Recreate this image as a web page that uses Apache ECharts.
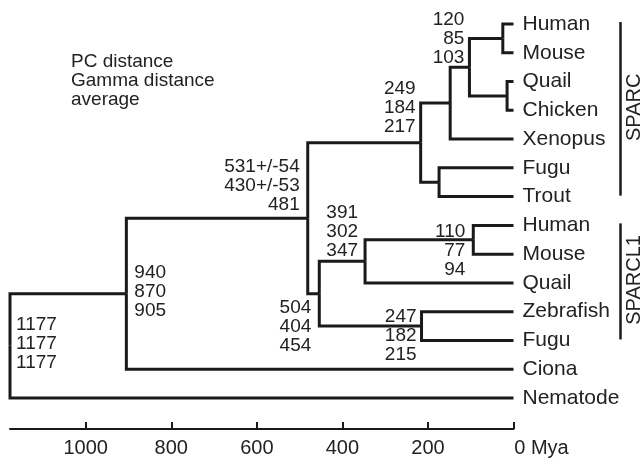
<!DOCTYPE html>
<html><head><meta charset="utf-8">
<script src="https://cdn.jsdelivr.net/npm/echarts@6/dist/echarts.min.js"></script>
<style>html,body{margin:0;padding:0;background:#fff}#c{width:644px;height:458px}</style>
</head><body><div id="c"></div>
<script>
// ---- data ----
const leafNames = ['Human','Mouse','Quail','Chicken','Xenopus','Fugu','Trout','Human','Mouse','Quail','Zebrafish','Fugu','Ciona','Nematode'];
const nodeIds = ['A','B','C','D','E','F','G','H','I','J','K','L','M'];
const nodeKids = [[0,1],[2,3],['A','B'],['C',4],[5,6],['D','E'],[7,8],['G',9],[10,11],['H','I'],['F','J'],['K',12],['L',13]];
const nodeAges = [25,15,103,148,174,217,94,347,215,454,481,905,1177]; // Mya
const pcLabels    = [null,null,'120',null,null,'249','110','391','247','504','531+/-54','940','1177'];
const gammaLabels = [null,null,'85', null,null,'184','77', '302','182','404','430+/-53','870','1177'];
const avgLabels   = [null,null,'103',null,null,'217','94', '347','215','454','481',     '905','1177'];
const groupNames = ['SPARC','SPARCL1'];
const groupFirstLeaf = [0,7];
const groupLastLeaf = [6,11];
const tickValues = [0,200,400,600,800,1000];
const legendLines = ['PC distance','Gamma distance','average'];

// ---- styles ----
const FONT = '"Liberation Sans", Arial, sans-serif';
const INK = '#1a1a1a';
const TXT = '#222';
const labelPlace = {
  C:{align:'right', va:'bottom', dx:-5, dy:0},
  F:{align:'right', va:'bottom', dx:-5, dy:-6},
  G:{align:'right', va:'middle', dx:-8, dy:11},
  H:{align:'right', va:'bottom', dx:-7, dy:-1},
  I:{align:'right', va:'middle', dx:-5, dy:10},
  J:{align:'right', va:'top',    dx:-8, dy:5},
  K:{align:'right', va:'bottom', dx:-8, dy:-4},
  L:{align:'left',  va:'middle', dx:8,  dy:-2},
  M:{align:'left',  va:'middle', dx:6,  dy:-2}
};

// ---- layout (rows of internal nodes = midpoint of children) ----
const idx = id => nodeIds.indexOf(id);
const nodeRow = new Array(nodeIds.length);
function layout(i){
  if (nodeRow[i] !== undefined) return nodeRow[i];
  const rows = nodeKids[i].map(k => typeof k === 'number' ? k : layout(idx(k)));
  nodeRow[i] = (Math.min(...rows) + Math.max(...rows)) / 2;
  return nodeRow[i];
}
nodeIds.forEach((_, i) => layout(i));
const rowOf = k => typeof k === 'number' ? k : nodeRow[idx(k)];
const ageOf = k => typeof k === 'number' ? 0 : nodeAges[idx(k)];

const chart = echarts.init(document.getElementById('c'), null, {renderer:'canvas'});
chart.setOption({
  animation: false,
  backgroundColor: '#fff',
  title: {
    text: legendLines.join('\n'), left: 71, top: 52, padding: 0,
    textStyle: {fontFamily: FONT, fontSize: 19, fontWeight: 'normal', color: TXT, lineHeight: 19}
  },
  grid: {left: 10, right: 130.5, top: 24, bottom: 60, containLabel: false, outerBoundsMode: 'none'},
  xAxis: {
    type: 'value', min: 0, max: 1177, inverse: true, offset: 31,
    splitLine: {show: false},
    axisLine: {onZero: false, lineStyle: {color: INK, width: 2}},
    axisTick: {inside: true, length: 7, customValues: tickValues, lineStyle: {color: INK, width: 2}},
    axisLabel: {
      customValues: tickValues, margin: 9, fontFamily: FONT, fontSize: 20, color: TXT,
      formatter: v => v === 0 ? '{m|0 Mya}' : String(v),
      rich: {m: {fontFamily: FONT, fontSize: 20, color: TXT, padding: [0,0,0,56]}}
    }
  },
  yAxis: {type: 'value', min: 0, max: 13, inverse: true, show: false},
  series: [
    {
      type: 'custom', name: 'tree', clip: false,
      data: nodeIds.map((id, i) => [nodeAges[i], nodeRow[i]]),
      renderItem: function (params, api) {
        const i = params.dataIndex;
        const p = api.coord([api.value(0), api.value(1)]);
        const els = [];
        nodeKids[i].forEach(k => {
          const c = api.coord([ageOf(k), rowOf(k)]);
          els.push({type: 'polyline', shape: {points: [[p[0], p[1]], [p[0], c[1]], [c[0], c[1]]]},
            style: {stroke: INK, lineWidth: 3, fill: null, lineJoin: 'miter', lineCap: 'butt'}});
        });
        const id = nodeIds[i];
        if (pcLabels[i] !== null && labelPlace[id]) {
          const lp = labelPlace[id];
          els.push({type: 'text', x: p[0] + lp.dx, y: p[1] + lp.dy,
            style: {text: [pcLabels[i], gammaLabels[i], avgLabels[i]].join('\n'),
              font: '19px ' + FONT, lineHeight: 19, fill: TXT, align: lp.align, verticalAlign: lp.va}});
        }
        return {type: 'group', children: els};
      }
    },
    {
      type: 'custom', name: 'leaves', clip: false,
      data: leafNames.map((n, i) => [0, i]),
      renderItem: function (params, api) {
        const p = api.coord([api.value(0), api.value(1)]);
        return {type: 'text', x: p[0] + 9, y: p[1],
          style: {text: leafNames[params.dataIndex], font: '21px ' + FONT, fill: TXT, align: 'left', verticalAlign: 'middle'}};
      }
    },
    {
      type: 'custom', name: 'groups', clip: false,
      data: groupNames.map((n, i) => [0, groupFirstLeaf[i], groupLastLeaf[i]]),
      renderItem: function (params, api) {
        const t = api.coord([0, api.value(1)]);
        const b = api.coord([0, api.value(2)]);
        const x = t[0] + 107;
        return {type: 'group', children: [
          {type: 'line', shape: {x1: x, y1: t[1] - 2, x2: x, y2: b[1] - 1},
            style: {stroke: INK, lineWidth: 2.5}},
          {type: 'text', x: x + 14, y: (t[1] + b[1]) / 2 - 3, rotation: Math.PI / 2,
            style: {text: groupNames[params.dataIndex], font: '20px ' + FONT, fill: TXT, align: 'center', verticalAlign: 'middle'}}
        ]};
      }
    }
  ]
});
</script>
</body></html>
